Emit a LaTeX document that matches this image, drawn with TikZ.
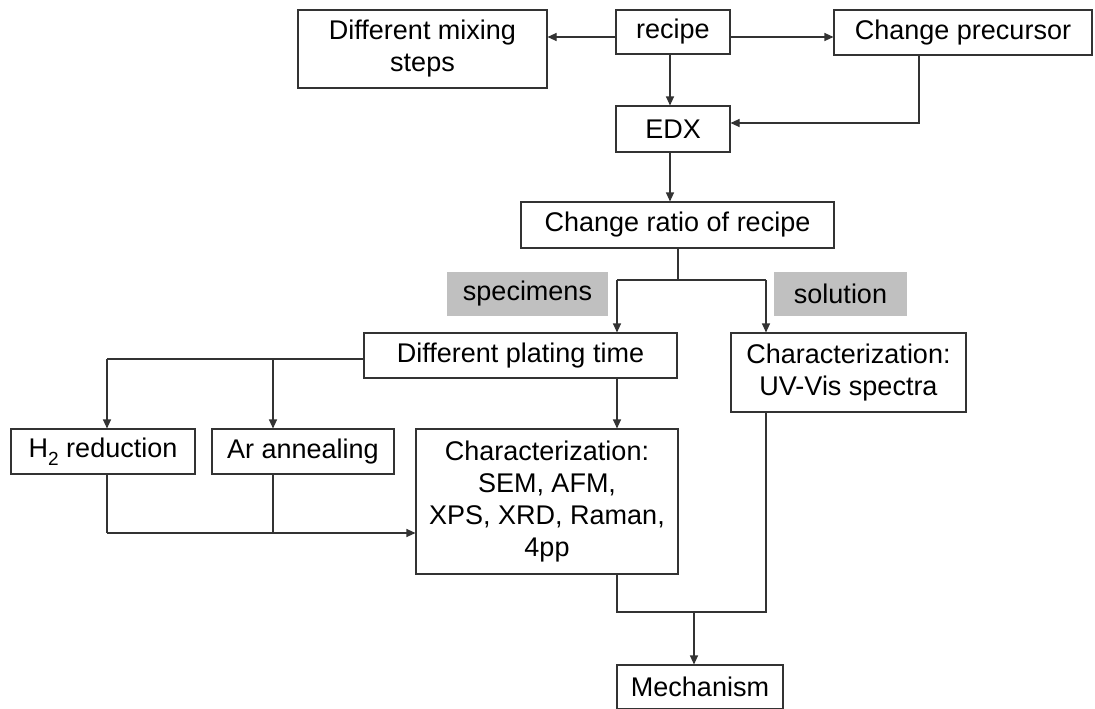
\documentclass[tikz,border=0pt]{standalone}
\usepackage{fontspec}
\setmainfont{Liberation Sans}
\usetikzlibrary{arrows.meta}
\definecolor{lineclr}{HTML}{333333}
\definecolor{tagfill}{HTML}{C0C0C0}
\tikzset{
  box/.style={draw=lineclr, line width=1.1pt, fill=white, align=center, inner sep=0pt,
    font=\fontsize{27}{32}\selectfont},
  tag/.style={fill=tagfill, draw=none, align=center, inner sep=0pt,
    font=\fontsize{27}{32}\selectfont},
  conn/.style={draw=lineclr, line width=1.1pt},
  arr/.style={conn, -{Triangle[length=9pt,width=8pt]}},
}
\begin{document}
\begin{tikzpicture}[x=1pt,y=-1pt]
\useasboundingbox[fill=white] (0,0) rectangle (1095,709);
% nodes
\node[box, minimum width=249pt, minimum height=78pt] (mix) at (422.5,49) {Different mixing\\steps};
\node[box, minimum width=114pt, minimum height=44pt] (recipe) at (673,32) {recipe};
\node[box, minimum width=258pt, minimum height=45pt] (prec) at (963,32.5) {Change precursor};
\node[box, minimum width=114pt, minimum height=46pt] (edx) at (673,129) {EDX};
\node[box, minimum width=313pt, minimum height=46pt] (ratio) at (677.5,225) {Change ratio of recipe};
\node[tag, minimum width=161pt, minimum height=44pt] (spec) at (527.5,294) {specimens};
\node[tag, minimum width=133pt, minimum height=44pt] (sol) at (840.5,294) {solution};
\node[box, minimum width=313pt, minimum height=45pt] (plate) at (520.5,355.5) {Different plating time};
\node[box, minimum width=235pt, minimum height=79pt] (uv) at (848.5,372.5) {Characterization:\\UV-Vis spectra};
\node[box, minimum width=184pt, minimum height=45pt] (h2) at (103,451.5) {H\raisebox{-0.28em}{\fontsize{19}{19}\selectfont 2} reduction};
\node[box, minimum width=182pt, minimum height=45pt] (ar) at (303,451.5) {Ar annealing};
\node[box, minimum width=262pt, minimum height=145pt] (charx) at (547,501.5) {Characterization:\\SEM, AFM,\\XPS, XRD, Raman,\\4pp};
\node[box, minimum width=166pt, minimum height=44pt] (mech) at (700,687) {Mechanism};
% bend / junction coordinates
\coordinate (jtop) at (0,37);
\coordinate (precbend) at (919,123);
\coordinate (ratiojn) at (678,280);
\coordinate (leftjn) at (617,280);
\coordinate (rightjn) at (766,280);
\coordinate (platejn) at (0,359);
\coordinate (h2x) at (107,0);
\coordinate (arx) at (273,0);
\coordinate (botjn) at (0,533);
\coordinate (mjl) at (617,612);
\coordinate (mjr) at (766,612);
\coordinate (mjc) at (694,612);
% connectors
\draw[arr] (recipe.west |- jtop) -- (mix.east |- jtop);
\draw[arr] (recipe.east |- jtop) -- (prec.west |- jtop);
\draw[arr] (recipe.south -| 670,0) -- (edx.north -| 670,0);
\draw[arr] (prec.south -| precbend) -- (precbend) -- (edx.east |- precbend);
\draw[arr] (edx.south -| 670,0) -- (ratio.north -| 670,0);
\draw[conn] (ratio.south -| ratiojn) -- (ratiojn);
\draw[conn] (leftjn) -- (rightjn);
\draw[arr] (leftjn) -- (plate.north -| leftjn);
\draw[arr] (rightjn) -- (uv.north -| rightjn);
\draw[conn] (plate.west |- platejn) -- (h2x |- platejn);
\draw[arr] (h2x |- platejn) -- (h2x |- h2.north);
\draw[arr] (arx |- platejn) -- (arx |- ar.north);
\draw[arr] (plate.south -| leftjn) -- (charx.north -| leftjn);
\draw[conn] (h2x |- h2.south) -- (h2x |- botjn);
\draw[conn] (arx |- ar.south) -- (arx |- botjn);
\draw[arr] (h2x |- botjn) -- (charx.west |- botjn);
\draw[conn] (charx.south -| mjl) -- (mjl) -- (mjr) -- (uv.south -| mjr);
\draw[arr] (mjc) -- (mech.north -| mjc);
\end{tikzpicture}
\end{document}
